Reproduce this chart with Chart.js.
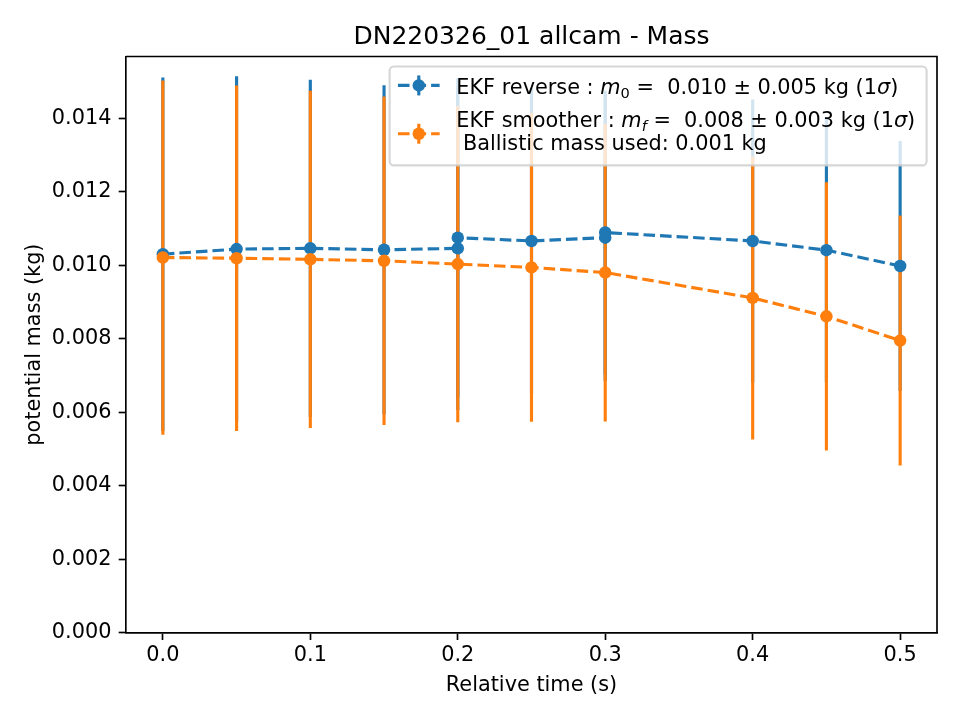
<!DOCTYPE html>
<html>
<head>
<meta charset="utf-8">
<script src="https://cdn.jsdelivr.net/npm/chart.js@4.4.1/dist/chart.umd.min.js"></script>
<style>
  html, body { margin: 0; padding: 0; background: #fff; }
  canvas { display: block; }
</style>
</head>
<body>
<canvas id="massChart" width="960" height="720"></canvas>
<script>
// EKF reverse (blue) - two estimates at 0.2 s and at 0.3 s
const reverseTime = [0.0, 0.05, 0.1, 0.15, 0.2, 0.2, 0.25, 0.3, 0.3, 0.4, 0.45, 0.5];
const reverseMass = [0.01030, 0.01044, 0.01046, 0.01042, 0.01046, 0.01075, 0.01066, 0.01075, 0.01089, 0.01066, 0.01041, 0.00998];
const reverseErr = [0.00481, 0.00470, 0.00459, 0.00448, 0.00440, 0.00434, 0.00416, 0.00390, 0.00386, 0.00385, 0.00360, 0.00340];

// EKF smoother (orange)
const smootherTime = [0.0, 0.05, 0.1, 0.15, 0.2, 0.25, 0.3, 0.4, 0.45, 0.5];
const smootherMass = [0.01021, 0.01019, 0.01016, 0.01012, 0.01003, 0.00994, 0.00980, 0.00911, 0.00861, 0.00795];
const smootherErr = [0.00482, 0.00470, 0.00459, 0.00447, 0.00430, 0.00420, 0.00405, 0.00385, 0.00365, 0.00340];

const xTickValues = [0, 0.1, 0.2, 0.3, 0.4, 0.5];
const xTickLabels = ['0.0', '0.1', '0.2', '0.3', '0.4', '0.5'];
const yTickValues = [0, 0.002, 0.004, 0.006, 0.008, 0.010, 0.012, 0.014];
const yTickLabels = ['0.000', '0.002', '0.004', '0.006', '0.008', '0.010', '0.012', '0.014'];

const BLUE = '#1f77b4';
const ORANGE = '#ff7f0e';
const FONT = 'DejaVu Sans';
const PT = 150 / 72; // the reference was saved at 150 dpi
const FS = 10 * PT;

Chart.defaults.font.family = FONT;
Chart.defaults.font.size = FS;
Chart.defaults.color = '#000';

const toPoints = (xs, ys) => xs.map((x, i) => ({ x: x, y: ys[i] }));

// vertical error bars, drawn under every line and marker
const errorBars = {
  id: 'errorBars',
  beforeDatasetsDraw(chart) {
    const { ctx, scales: { x, y } } = chart;
    ctx.save();
    ctx.lineWidth = 1.5 * PT;
    chart.data.datasets.forEach((ds) => {
      ctx.strokeStyle = ds.borderColor;
      ds.data.forEach((p, i) => {
        const px = x.getPixelForValue(p.x);
        ctx.beginPath();
        ctx.moveTo(px, y.getPixelForValue(p.y - ds.yErr[i]));
        ctx.lineTo(px, y.getPixelForValue(p.y + ds.yErr[i]));
        ctx.stroke();
      });
    });
    ctx.restore();
  },
};

// pieces: [text, style]  n = normal, i = italic, s = subscript, si = italic subscript
const legendRows = [
  [['EKF reverse : ', 'n'], ['m', 'i'], ['0', 's'], [' =  0.010 \u00b1 0.005 kg (1', 'n'], ['\u03c3', 'i'], [')', 'n']],
  [['EKF smoother : ', 'n'], ['m', 'i'], ['f', 'si'], [' =  0.008 \u00b1 0.003 kg (1', 'n'], ['\u03c3', 'i'], [')', 'n']],
  [[' Ballistic mass used: 0.001 kg', 'n']],
];

const setPieceFont = (ctx, style) => {
  const sub = style === 's' || style === 'si';
  const size = sub ? FS * 0.7 : FS;
  const italic = style === 'i' || style === 'si';
  ctx.font = (italic ? 'oblique ' : '') + size + 'px "' + FONT + '"';
};

const rowWidth = (ctx, row) => row.reduce((w, [t, s]) => {
  setPieceFont(ctx, s);
  return w + ctx.measureText(t).width;
}, 0);

const drawRow = (ctx, row, x, baseline) => {
  let cx = x;
  row.forEach(([t, s]) => {
    setPieceFont(ctx, s);
    const dy = (s === 's' || s === 'si') ? 0.2 * FS : 0;
    ctx.fillText(t, cx, baseline + dy);
    cx += ctx.measureText(t).width;
  });
};

const drawHandle = (ctx, color, x0, cy) => {
  const len = 2 * FS;
  ctx.save();
  ctx.strokeStyle = color;
  ctx.lineWidth = 1.5 * PT;
  ctx.setLineDash([3.7 * 1.5 * PT, 1.6 * 1.5 * PT]);
  ctx.beginPath();
  ctx.moveTo(x0, cy);
  ctx.lineTo(x0 + len, cy);
  ctx.stroke();
  ctx.setLineDash([]);
  ctx.beginPath();
  ctx.moveTo(x0 + len / 2, cy - 10);
  ctx.lineTo(x0 + len / 2, cy + 10);
  ctx.stroke();
  ctx.fillStyle = color;
  ctx.beginPath();
  ctx.arc(x0 + len / 2, cy, 3 * PT, 0, Math.PI * 2);
  ctx.fill();
  ctx.restore();
};

const decorations = {
  id: 'decorations',
  afterDraw(chart) {
    const { ctx, chartArea: a } = chart;
    ctx.save();

    // top and right spines
    ctx.strokeStyle = '#000';
    ctx.lineWidth = 0.8 * PT;
    ctx.beginPath();
    ctx.moveTo(a.left, a.top);
    ctx.lineTo(a.right, a.top);
    ctx.lineTo(a.right, a.bottom);
    ctx.stroke();

    // title
    ctx.fillStyle = '#000';
    ctx.textAlign = 'center';
    ctx.textBaseline = 'alphabetic';
    ctx.font = 12 * PT + 'px "' + FONT + '"';
    ctx.fillText('DN220326_01 allcam - Mass', (a.left + a.right) / 2, a.top - 12.3);

    // legend, upper right
    const pad = 0.4 * FS;
    const textW = Math.max(...legendRows.map((r) => rowWidth(ctx, r)));
    const boxW = pad + 2 * FS + 0.8 * FS + textW + pad + 3;
    const right = a.right - 0.5 * FS;
    const left = right - boxW;
    const top = a.top + 0.5 * FS - 0.5;
    const h = 99;
    ctx.fillStyle = 'rgba(255,255,255,0.8)';
    ctx.strokeStyle = 'rgba(204,204,204,0.8)';
    ctx.lineWidth = 1.0 * PT;
    ctx.beginPath();
    ctx.roundRect(left, top, boxW, h, 0.2 * FS);
    ctx.fill();
    ctx.stroke();

    const hx = left + pad;
    drawHandle(ctx, BLUE, hx, top + 19);
    drawHandle(ctx, ORANGE, hx, top + 67.3);

    ctx.fillStyle = '#000';
    ctx.textAlign = 'left';
    const tx = hx + 2 * FS + 0.8 * FS;
    drawRow(ctx, legendRows[0], tx, top + 27.3);
    drawRow(ctx, legendRows[1], tx, top + 60.7);
    drawRow(ctx, legendRows[2], tx, top + 84);
    ctx.restore();
  },
};

const lineStyle = (color) => ({
  borderColor: color,
  backgroundColor: color,
  borderWidth: 1.5 * PT,
  borderDash: [3.7 * 1.5 * PT, 1.6 * 1.5 * PT],
  pointRadius: 3 * PT,
  pointBorderWidth: 0,
  pointBackgroundColor: color,
  showLine: true,
  fill: false,
  tension: 0,
});

new Chart(document.getElementById('massChart'), {
  type: 'scatter',
  data: {
    datasets: [
      {
        label: 'EKF reverse',
        data: toPoints(reverseTime, reverseMass),
        yErr: reverseErr,
        order: 1,
        ...lineStyle(BLUE),
      },
      {
        label: 'EKF smoother',
        data: toPoints(smootherTime, smootherMass),
        yErr: smootherErr,
        order: 0,
        ...lineStyle(ORANGE),
      },
    ],
  },
  options: {
    responsive: false,
    animation: false,
    devicePixelRatio: 1,
    layout: { padding: { top: 56.5, right: 23, left: 0, bottom: 0 } },
    plugins: {
      legend: { display: false },
      title: { display: false },
      tooltip: { enabled: false },
    },
    scales: {
      x: {
        type: 'linear',
        min: -0.025,
        max: 0.525,
        afterFit: (scale) => { scale.height = 87.3; },
        afterBuildTicks: (scale) => { scale.ticks = xTickValues.map((v) => ({ value: v })); },
        ticks: {
          autoSkip: false,
          maxRotation: 0,
          padding: 3,
          callback: (value, index) => xTickLabels[index],
        },
        grid: {
          drawOnChartArea: false,
          tickLength: 3.5 * PT,
          tickWidth: 0.8 * PT,
          tickColor: '#000',
        },
        border: { color: '#000', width: 0.8 * PT },
        title: {
          display: true,
          text: 'Relative time (s)',
          padding: { top: 0, bottom: 22 },
        },
      },
      y: {
        type: 'linear',
        min: 0,
        max: 0.01568,
        afterFit: (scale) => { scale.width = 126; },
        afterBuildTicks: (scale) => { scale.ticks = yTickValues.map((v) => ({ value: v })); },
        ticks: {
          autoSkip: false,
          padding: 3.5 * PT,
          callback: (value, index) => yTickLabels[index],
        },
        grid: {
          drawOnChartArea: false,
          tickLength: 3.5 * PT,
          tickWidth: 0.8 * PT,
          tickColor: '#000',
        },
        border: { color: '#000', width: 0.8 * PT },
        title: {
          display: true,
          text: 'potential mass (kg)',
          padding: { top: 22, bottom: 0 },
        },
      },
    },
  },
  plugins: [errorBars, decorations],
});
</script>
</body>
</html>
